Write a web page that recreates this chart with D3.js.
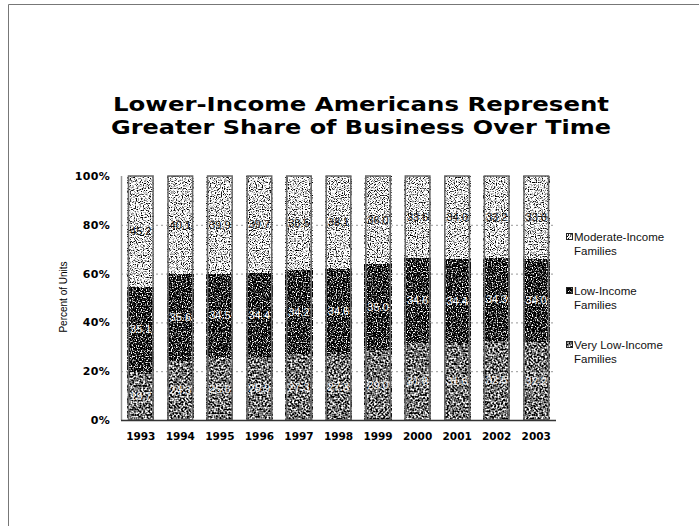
<!DOCTYPE html>
<html>
<head>
<meta charset="utf-8">
<script src="https://cdn.jsdelivr.net/npm/d3@7"></script>
<style>
  html, body { margin: 0; padding: 0; background: #fff; }
  svg { display: block; }
</style>
</head>
<body>
<svg id="chart" width="699" height="526"></svg>
<script>
// ---- data ----
const years = ["1993","1994","1995","1996","1997","1998","1999","2000","2001","2002","2003"];
const veryLow = [19.7, 24.3, 25.6, 25.9, 27.3, 27.3, 29.0, 31.8, 31.6, 32.5, 32.2];
const low     = [35.1, 35.6, 34.5, 34.4, 34.2, 34.6, 35.0, 34.6, 34.4, 34.3, 34.0];
const moderate= [45.2, 40.1, 39.9, 39.7, 38.5, 38.1, 36.0, 33.6, 34.0, 33.2, 33.8];
const seriesNames = ["Very Low-Income Families", "Low-Income Families", "Moderate-Income Families"];
const yTicks = [0, 20, 40, 60, 80, 100];
const titleLines = ["Lower-Income Americans Represent", "Greater Share of Business Over Time"];

const svg = d3.select("#chart");

// frame lines
svg.append("path").attr("d", "M8.5,526 L8.5,4.5 L699,4.5").attr("fill","none").attr("stroke","#777").attr("stroke-width",1);

// noise textures via filters
const defs = svg.append("defs");
const tex = [
  {id:"texVL", freq:0.55, slope:3.2, intercept:-1.15, seed:7},
  {id:"texL",  freq:0.8,  slope:5.0, intercept:-2.45, seed:3},
  {id:"texM",  freq:0.85, slope:5.0, intercept:-1.55, seed:11}
];
tex.forEach(t => {
  const f = defs.append("filter").attr("id", t.id)
    .attr("x",0).attr("y",0).attr("width",1).attr("height",1)
    .attr("color-interpolation-filters","sRGB");
  f.append("feTurbulence").attr("type","fractalNoise").attr("baseFrequency",t.freq)
    .attr("numOctaves",1).attr("seed",t.seed).attr("result","n");
  f.append("feColorMatrix").attr("type","matrix")
    .attr("values","1 0 0 0 0  1 0 0 0 0  1 0 0 0 0  0 0 0 0 1").attr("result","g");
  const ct = f.append("feComponentTransfer");
  ["feFuncR","feFuncG","feFuncB"].forEach(fn =>
    ct.append(fn).attr("type","linear").attr("slope",t.slope).attr("intercept",t.intercept));
});

const x = d3.scaleBand().domain(years).range([121, 556]).paddingInner(0.34).paddingOuter(0.17);
const y = d3.scaleLinear().domain([0, 100]).range([420, 176]);

// gridlines
svg.append("g").selectAll("line").data(yTicks.filter(d => d > 0 && d < 100)).join("line")
  .attr("x1", 121).attr("x2", 556)
  .attr("y1", d => y(d) + 0.5).attr("y2", d => y(d) + 0.5)
  .attr("stroke", "#999").attr("stroke-dasharray", "2,3");

// stacked data
const rows = years.map((yr, i) => ({year: yr, vl: veryLow[i], l: low[i], m: moderate[i]}));
const stack = d3.stack().keys(["vl","l","m"])(rows);
const texIds = ["texVL","texL","texM"];
const labelFill = ["#eee", "#fff", "#111"];

stack.forEach((layer, si) => {
  const g = svg.append("g");
  g.selectAll("rect.seg").data(layer).join("rect")
    .attr("class","seg")
    .attr("x", d => x(d.data.year))
    .attr("y", d => y(Math.min(d[1], 100)))
    .attr("width", x.bandwidth())
    .attr("height", d => y(d[0]) - y(Math.min(d[1], 100)))
    .attr("fill", "#888")
    .attr("filter", `url(#${texIds[si]})`);
});

// bar outlines
svg.append("g").selectAll("rect").data(rows).join("rect")
  .attr("x", d => x(d.year) + 0.75)
  .attr("y", y(100))
  .attr("width", x.bandwidth() - 1.5)
  .attr("height", y(0) - y(100))
  .attr("fill", "none").attr("stroke", "#666").attr("stroke-width", 1.5);

// value labels
stack.forEach((layer, si) => {
  svg.append("g").selectAll("text").data(layer).join("text")
    .attr("x", d => x(d.data.year) + x.bandwidth() / 2)
    .attr("y", d => y((d[0] + Math.min(d[1],100)) / 2) + 4)
    .attr("text-anchor", "middle")
    .attr("font-family", "Liberation Sans, Arial, sans-serif")
    .attr("font-size", "11px")
    .attr("fill", labelFill[si])
    .text(d => (d[1] - d[0]).toFixed(1));
});

// axes lines
svg.append("line").attr("x1", 121.5).attr("x2", 121.5).attr("y1", y(100)).attr("y2", y(0))
  .attr("stroke", "#999").attr("stroke-width", 1.5);
svg.append("line").attr("x1", 121).attr("x2", 556).attr("y1", y(0) + 0.5).attr("y2", y(0) + 0.5)
  .attr("stroke", "#333").attr("stroke-width", 1.5);

// y tick labels
svg.append("g").selectAll("text").data(yTicks).join("text")
  .attr("x", 110).attr("y", d => y(d) + 4)
  .attr("text-anchor", "end")
  .attr("font-family", "DejaVu Sans, Verdana, sans-serif")
  .attr("font-weight", "bold").attr("font-size", "11px")
  .attr("letter-spacing", "0.3")
  .text(d => d + "%");

// x tick labels
svg.append("g").selectAll("text").data(years).join("text")
  .attr("x", d => x(d) + x.bandwidth() / 2).attr("y", 440)
  .attr("text-anchor", "middle")
  .attr("font-family", "DejaVu Sans, Verdana, sans-serif")
  .attr("font-weight", "bold").attr("font-size", "10.5px")
  .text(d => d);

// y axis title
svg.append("text")
  .attr("transform", "translate(67,297) rotate(-90)")
  .attr("text-anchor", "middle")
  .attr("font-family", "Liberation Sans, Arial, sans-serif")
  .attr("font-size", "10px")
  .text("Percent of Units");

// title
svg.append("g").selectAll("text").data(titleLines).join("text")
  .attr("x", 361).attr("y", (d, i) => 111 + i * 23)
  .attr("text-anchor", "middle")
  .attr("font-family", "DejaVu Sans, Verdana, sans-serif")
  .attr("font-weight", "bold").attr("font-size", "20px")
  .attr("textLength", (d, i) => i === 0 ? 496 : 500)
  .attr("lengthAdjust", "spacingAndGlyphs")
  .text(d => d);

// legend
const legendItems = [
  {name: seriesNames[2], tex: "texM", y: 241},
  {name: seriesNames[1], tex: "texL", y: 295},
  {name: seriesNames[0], tex: "texVL", y: 349}
];
const lg = svg.append("g");
legendItems.forEach(it => {
  const parts = it.name.split(" Families");
  lg.append("rect").attr("x", 566.5).attr("y", it.y - 7.5).attr("width", 6).attr("height", 6)
    .attr("fill", "#888").attr("filter", `url(#${it.tex})`);
  lg.append("rect").attr("x", 566.5).attr("y", it.y - 7.5).attr("width", 6).attr("height", 6)
    .attr("fill", "none").attr("stroke", "#222").attr("stroke-width", 1);
  const t = lg.append("text")
    .attr("font-family", "Liberation Sans, Arial, sans-serif")
    .attr("font-size", "11.5px").attr("fill", "#111");
  t.append("tspan").attr("x", 574).attr("y", it.y).text(parts[0]);
  t.append("tspan").attr("x", 574).attr("y", it.y + 14).text("Families");
});
</script>
</body>
</html>
